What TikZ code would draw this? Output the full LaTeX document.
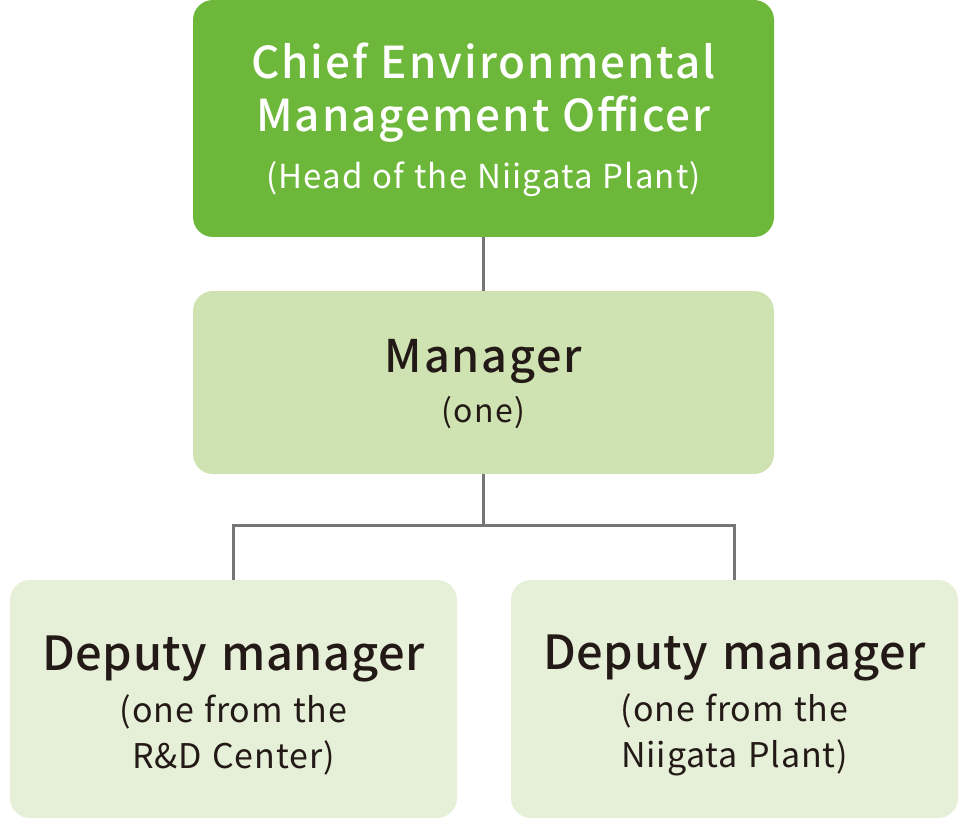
\documentclass[tikz,border=0pt]{standalone}
\usepackage{fontspec}
\setmainfont{Noto Sans CJK JP}[BoldFont={* Medium}]
\usepackage{tikz}

% size, baseline skip, letter spacing
\newcommand\boxline[3]{\fontsize{#1}{#2}\selectfont\addfontfeatures{LetterSpace=#3}\spaceskip=.3em\relax}

\begin{document}
\begin{tikzpicture}
			[x=1pt,y=-1pt,line cap=butt,
			%Styles
			box/.style={rounded corners=20pt,inner sep=0pt,align=center,text width=#1},
			officer box/.style={box=581pt,fill=officergreen,text=white,minimum height=237pt},
			manager box/.style={box=581pt,fill=managergreen,text=textdark,minimum height=183pt},
			deputy box/.style={box=447pt,fill=deputygreen,text=textdark,minimum height=238pt},
			link/.style={draw=linkgray,line width=3pt}
			]
			
			%Colors
			\definecolor{officergreen}{RGB}{109,184,58}
			\definecolor{managergreen}{RGB}{207,227,178}
			\definecolor{deputygreen}{RGB}{230,240,216}
			\definecolor{linkgray}{RGB}{118,118,118}
			\definecolor{textdark}{RGB}{35,25,22}
			
			%Canvas
			\useasboundingbox (0,0) rectangle (968,818);
			
			%The graphic
			
			\node[officer box] (officer) at (483.5,118.5)
				{\bfseries\boxline{44}{53}{4.5}\rule{0pt}{38pt}Chief Environmental\\
				 \boxline{44}{53}{4.5}Management Officer\\
				 \mdseries\boxline{33}{57}{3.5}(Head of the Niigata Plant)\par};
			
			\node[manager box] (manager) at (483.5,382.5)
				{\bfseries\boxline{45}{52}{4}\rule{0pt}{37pt}Manager\\
				 \mdseries\boxline{32}{50}{4}(one)\par};
			
			\node[deputy box] (deputyrd) at (233.5,699)
				{\bfseries\boxline{47}{52}{1.1}\rule{0pt}{47pt}Deputy manager\\
				 \mdseries\boxline{34}{52}{2.5}(one from the\\
				 \boxline{34}{46}{2.5}R\&D Center)\par};
			
			\node[deputy box] (deputyplant) at (734.5,699)
				{\bfseries\boxline{47}{52}{1.1}\rule{0pt}{47pt}Deputy manager\\
				 \mdseries\boxline{34}{52}{2.5}(one from the\\
				 \boxline{34}{46}{2.5}Niigata Plant)\par};
			
			\coordinate (branch) at (483.5,525);
			
			\draw[link] (officer.south) -- (manager.north);
			\draw[link] (manager.south) -- (branch);
			\draw[link] (branch) -| (deputyrd.north);
			\draw[link] (branch) -| (deputyplant.north);
		\end{tikzpicture}
\end{document}
